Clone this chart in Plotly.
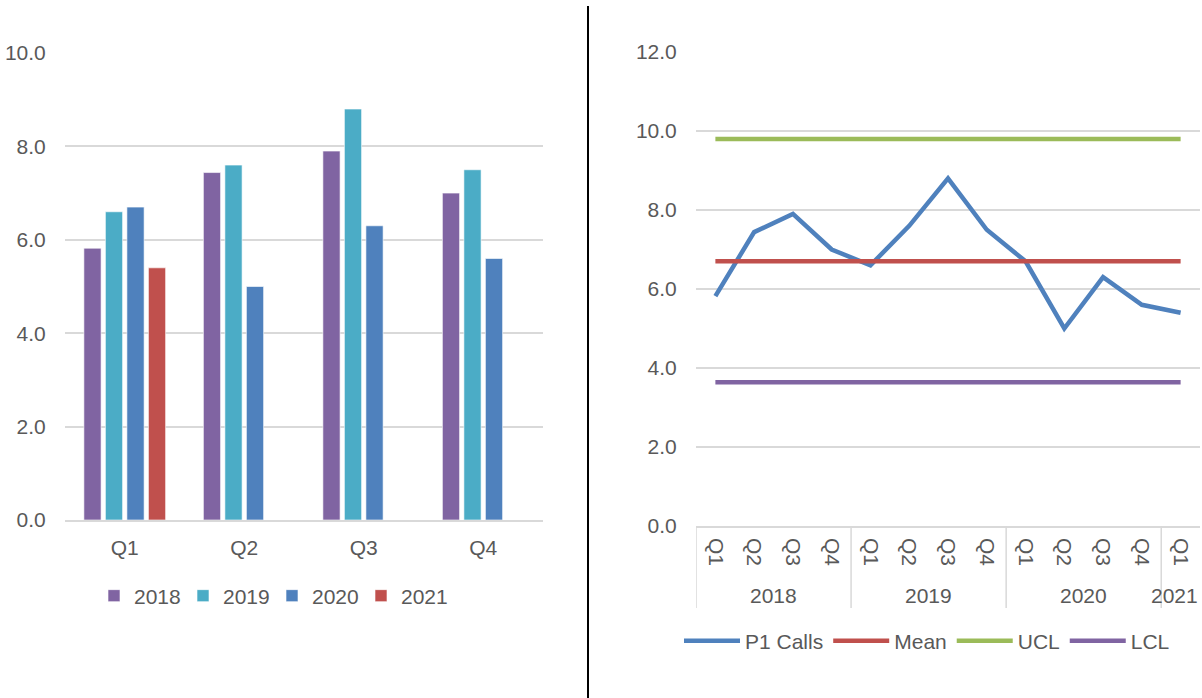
import plotly.graph_objects as go

# ---- data -------------------------------------------------------------
quarters = ["Q1", "Q2", "Q3", "Q4"]
years = ["2018", "2019", "2020", "2021"]
calls_2018 = [5.82, 7.44, 7.9, 7.0]
calls_2019 = [6.6, 7.6, 8.8, 7.5]
calls_2020 = [6.7, 5.0, 6.3, 5.6]
calls_2021 = [5.4, None, None, None]

period_year = ["2018", "2018", "2018", "2018",
               "2019", "2019", "2019", "2019",
               "2020", "2020", "2020", "2020",
               "2021"]
period_quarter = ["Q1", "Q2", "Q3", "Q4",
                  "Q1", "Q2", "Q3", "Q4",
                  "Q1", "Q2", "Q3", "Q4",
                  "Q1"]
p1_calls = [5.82, 7.44, 7.9, 7.0, 6.6, 7.6, 8.8, 7.5, 6.7, 5.0, 6.3, 5.6, 5.4]
mean_value = 6.7
ucl_value = 9.8
lcl_value = 3.64

# ---- styling ----------------------------------------------------------
W, H = 1202, 698
FONT = "Liberation Sans, Arial, sans-serif"
TXT = "#595959"
GRID = "#D9D9D9"
FS = 21
year_colors = ["#8064A2", "#4BACC6", "#4F81BD", "#C0504D"]


def px_x(p):
    return p / W


def px_y(p):
    return 1 - p / H


fig = go.Figure()

# ---- left: grouped bars by quarter -----------------------------------
for name, vals, col in zip(years, [calls_2018, calls_2019, calls_2020, calls_2021], year_colors):
    fig.add_trace(go.Bar(
        x=quarters, y=vals, name=name,
        marker=dict(color=col, line=dict(color="rgba(255,255,255,0.6)", width=1)),
        xaxis="x", yaxis="y", legend="legend",
    ))

# ---- right: control chart --------------------------------------------
periods = [f"{y} {q}" for y, q in zip(period_year, period_quarter)]
n = len(periods)
line_specs = [
    ("P1 Calls", p1_calls, "#4F81BD"),
    ("Mean", [mean_value] * n, "#C0504D"),
    ("UCL", [ucl_value] * n, "#9BBB59"),
    ("LCL", [lcl_value] * n, "#8064A2"),
]
for name, vals, col in line_specs:
    fig.add_trace(go.Scatter(
        x=periods, y=vals, name=name, mode="lines",
        line=dict(color=col, width=4.5),
        xaxis="x2", yaxis="y2", legend="legend2",
    ))

tick_font = dict(family=FONT, size=FS, color=TXT)

fig.update_layout(
    width=W, height=H,
    margin=dict(l=0, r=0, t=0, b=0, autoexpand=False),
    paper_bgcolor="white", plot_bgcolor="white",
    font=dict(family=FONT, size=FS, color=TXT),
    barmode="group", bargap=0.28, bargroupgap=0.2,
    showlegend=True,
    xaxis=dict(
        domain=[px_x(65), px_x(543)], anchor="y", type="category",
        automargin=False,
        showline=True, linecolor=GRID, linewidth=1.5,
        ticks="outside", ticklen=8, tickcolor="rgba(0,0,0,0)",
        tickfont=tick_font, showgrid=False,
    ),
    yaxis=dict(
        domain=[px_y(520), px_y(53)], anchor="x", range=[0, 10], dtick=2,
        automargin=False,
        tickformat=".1f", showgrid=True, gridcolor=GRID, gridwidth=1.5,
        zeroline=False, showline=False,
        ticks="outside", ticklen=14, tickcolor="rgba(0,0,0,0)",
        tickfont=tick_font,
    ),
    xaxis2=dict(
        domain=[px_x(696), px_x(1200)], anchor="y2", type="category",
        automargin=False,
        tickmode="array", tickvals=periods, ticktext=period_quarter,
        tickangle=90, range=[-0.5, n - 0.5],
        showline=True, linecolor=GRID, linewidth=1.5,
        ticks="outside", ticklen=6, tickcolor="rgba(0,0,0,0)",
        tickfont=tick_font, showgrid=False,
    ),
    yaxis2=dict(
        domain=[px_y(526), px_y(52)], anchor="x2", range=[0, 12], dtick=2,
        automargin=False,
        tickformat=".1f", showgrid=True, gridcolor=GRID, gridwidth=1.5,
        zeroline=False, showline=False,
        ticks="outside", ticklen=14, tickcolor="rgba(0,0,0,0)",
        tickfont=tick_font,
    ),
    legend=dict(
        orientation="h", x=px_x(272), y=px_y(596),
        xanchor="center", yanchor="middle",
        entrywidth=44, entrywidthmode="pixels",
        font=dict(family=FONT, size=FS, color=TXT),
        bgcolor="rgba(0,0,0,0)", traceorder="normal",
    ),
    legend2=dict(
        orientation="h", x=px_x(927), y=px_y(641),
        xanchor="center", yanchor="middle",
        itemwidth=56,
        font=dict(family=FONT, size=FS, color=TXT),
        bgcolor="rgba(0,0,0,0)", traceorder="normal",
    ),
)

# year group labels and dividers under the quarter labels
shapes = []
annotations = []
group_start = 0
for i in range(1, n + 1):
    if i == n or period_year[i] != period_year[group_start]:
        last_group = i == n and i - group_start == 1
        annotations.append(dict(
            # a one-quarter group at the right edge is kept inside the figure
            x=(n - 0.5) if last_group else (group_start + i - 1) / 2,
            y=px_y(595), xref="x2", yref="paper",
            text=period_year[group_start], showarrow=False,
            xanchor="right" if last_group else "center", yanchor="middle",
            font=dict(family=FONT, size=FS, color=TXT),
        ))
        shapes.append(dict(
            type="line", xref="x2", yref="paper",
            x0=group_start - 0.5, x1=group_start - 0.5,
            y0=px_y(526), y1=px_y(608),
            line=dict(color=GRID, width=1.5),
        ))
        group_start = i

# separator between the two panels
shapes.append(dict(
    type="line", xref="paper", yref="paper",
    x0=px_x(588), x1=px_x(588), y0=0, y1=px_y(6),
    line=dict(color="black", width=2),
))

fig.update_layout(shapes=shapes, annotations=annotations)

fig.write_html("out.html")
